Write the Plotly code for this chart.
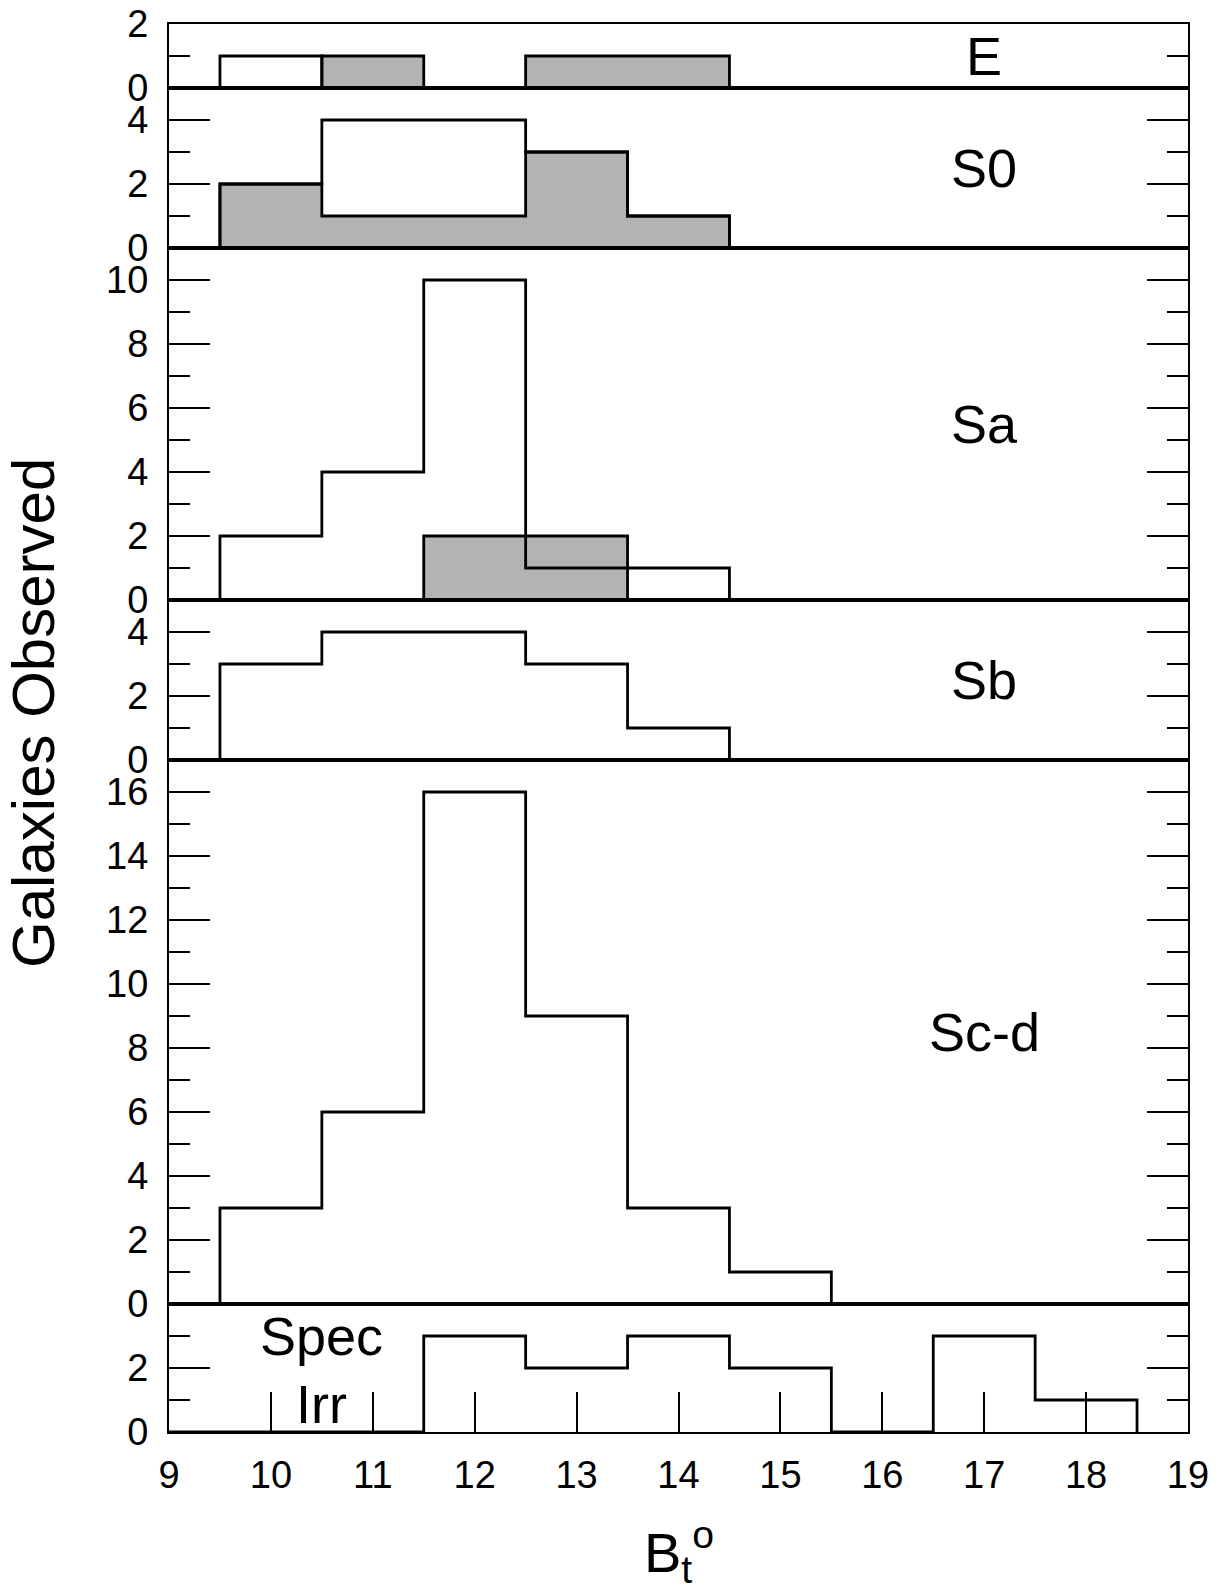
import plotly.graph_objects as go

# ---------------- data ----------------
bin_centers = [9, 10, 11, 12, 13, 14, 15, 16, 17, 18]

E_open = [0, 1, 0, 0, 0, 0, 0, 0, 0, 0]
E_gray = [0, 0, 1, 0, 1, 1, 0, 0, 0, 0]
S0_open = [0, 2, 4, 4, 3, 1, 0, 0, 0, 0]
S0_gray = [0, 2, 1, 1, 3, 1, 0, 0, 0, 0]
Sa_open = [0, 2, 4, 10, 1, 1, 0, 0, 0, 0]
Sa_gray = [0, 0, 0, 2, 2, 0, 0, 0, 0, 0]
Sb_open = [0, 3, 4, 4, 3, 1, 0, 0, 0, 0]
Scd_open = [0, 3, 6, 16, 9, 3, 1, 0, 0, 0]
Irr_open = [0, 0, 0, 3, 2, 3, 2, 0, 3, 1]

panel_names = ["E", "S0", "Sa", "Sb", "Sc-d", "Spec Irr"]
panel_ymax = [2, 5, 11, 5, 17, 4]
panel_ticks = [[0, 2], [0, 2, 4], [0, 2, 4, 6, 8, 10], [0, 2, 4],
               [0, 2, 4, 6, 8, 10, 12, 14, 16], [0, 2]]
x_ticks = [9, 10, 11, 12, 13, 14, 15, 16, 17, 18, 19]

# ---------------- helpers ----------------
FONT = "Liberation Sans, Arial, Helvetica, sans-serif"
GRAY = "#b3b3b3"


def steps(centers, counts):
    edges = [c - 0.5 for c in centers] + [centers[-1] + 0.5]
    xs = [edges[0]] + edges[:-1] + [edges[-1]]
    ys = [0] + list(counts) + [0]
    return xs, ys


fig = go.Figure()

total = sum(panel_ymax)
domains = []
top = 1.0
for m in panel_ymax:
    h = m / total
    domains.append([max(top - h, 0.0), min(top, 1.0)])
    top -= h

series = [
    (E_open, E_gray),
    (S0_open, S0_gray),
    (Sa_open, Sa_gray),
    (Sb_open, None),
    (Scd_open, None),
    (Irr_open, None),
]

for i, (op, gr) in enumerate(series):
    n = i + 1
    xa = "x" if n == 1 else f"x{n}"
    ya = "y" if n == 1 else f"y{n}"
    if gr is not None:
        gx, gy = steps(bin_centers, gr)
        fig.add_trace(go.Scatter(x=gx, y=gy, mode="lines", line_shape="hv",
                                 line=dict(color="black", width=2.8),
                                 fill="tozeroy", fillcolor=GRAY,
                                 xaxis=xa, yaxis=ya, showlegend=False,
                                 hoverinfo="skip"))
    ox, oy = steps(bin_centers, op)
    fig.add_trace(go.Scatter(x=ox, y=oy, mode="lines", line_shape="hv",
                             line=dict(color="black", width=2.8),
                             xaxis=xa, yaxis=ya, showlegend=False,
                             hoverinfo="skip"))

layout = dict(
    width=1225, height=1596, autosize=False,
    margin=dict(l=169, r=37, t=24, b=164, pad=0, autoexpand=False),
    paper_bgcolor="white", plot_bgcolor="white",
    showlegend=False,
    font=dict(family=FONT, color="black"),
)

for i in range(6):
    n = i + 1
    xkey = "xaxis" if n == 1 else f"xaxis{n}"
    ykey = "yaxis" if n == 1 else f"yaxis{n}"
    ya = "y" if n == 1 else f"y{n}"
    xa = "x" if n == 1 else f"x{n}"
    bottom = (n == 6)
    layout[xkey] = dict(
        domain=[0, 1], range=[9, 19], anchor=ya,
        matches=None if n == 1 else "x",
        automargin=False,
        showline=True, linewidth=2, linecolor="black", mirror=True,
        showgrid=False, zeroline=False,
        ticks="inside" if bottom else "",
        tickmode="array", tickvals=x_ticks,
        ticklen=40, tickwidth=2, tickcolor="black",
        showticklabels=bottom,
        tickfont=dict(size=38, family=FONT, color="black"),
        ticklabelstandoff=8,
    )
    layout[ykey] = dict(
        domain=domains[i], range=[0, panel_ymax[i]], anchor=xa,
        automargin=False,
        showline=True, linewidth=2, linecolor="black", mirror="ticks",
        showgrid=False, zeroline=False,
        ticks="inside", tickmode="array", tickvals=panel_ticks[i],
        ticklen=41, tickwidth=2, tickcolor="black",
        minor=dict(tickmode="linear", tick0=0, dtick=1, ticks="inside",
                   ticklen=21, tickwidth=2, tickcolor="black"),
        tickfont=dict(size=38, family=FONT, color="black"),
        ticklabelstandoff=11,
    )

fig.update_layout(**layout)

# panel labels
label_pos = [(17, 1.0), (17, 2.5), (17, 5.5), (17, 2.5), (17, 8.5)]
for i, (lx, ly) in enumerate(label_pos):
    n = i + 1
    fig.add_annotation(x=lx, y=ly, xref="x" if n == 1 else f"x{n}",
                       yref="y" if n == 1 else f"y{n}",
                       text=panel_names[i], showarrow=False,
                       font=dict(size=54, family=FONT, color="black"),
                       xanchor="center", yanchor="middle")
fig.add_annotation(x=10.5, y=3.0, xref="x6", yref="y6", text="Spec",
                   showarrow=False, font=dict(size=54, family=FONT, color="black"),
                   xanchor="center", yanchor="middle")
fig.add_annotation(x=10.5, y=0.87, xref="x6", yref="y6", text="Irr",
                   showarrow=False, font=dict(size=54, family=FONT, color="black"),
                   xanchor="center", yanchor="middle")

# axis titles
fig.add_annotation(x=-0.1325, y=0.5107, xref="paper", yref="paper",
                   text="Galaxies Observed", textangle=-90, showarrow=False,
                   font=dict(size=60, family=FONT, color="black"),
                   xanchor="center", yanchor="middle")
fig.add_annotation(x=0.5, y=-0.085, xref="paper", yref="paper",
                   text="B<sub>t</sub><sup>o</sup>", showarrow=False,
                   font=dict(size=56, family=FONT, color="black"),
                   xanchor="center", yanchor="middle")

fig.write_html("out.html")
